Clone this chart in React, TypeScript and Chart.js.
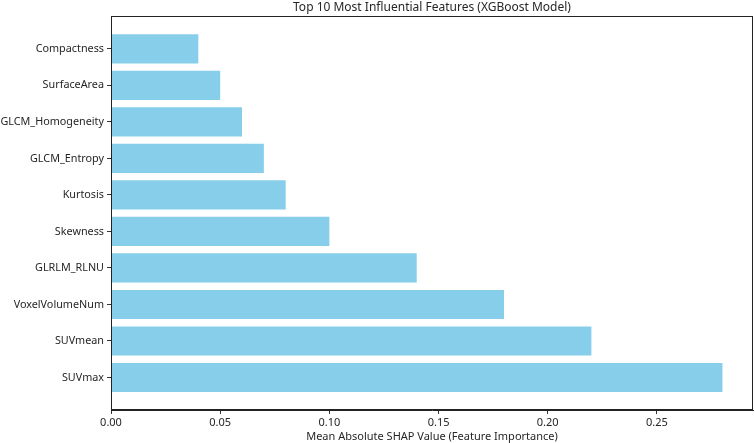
import React, { useEffect, useRef } from "react";
import { Chart, registerables } from "chart.js";

Chart.register(...registerables);

const features = [
  "Compactness",
  "SurfaceArea",
  "GLCM_Homogeneity",
  "GLCM_Entropy",
  "Kurtosis",
  "Skewness",
  "GLRLM_RLNU",
  "VoxelVolumeNum",
  "SUVmean",
  "SUVmax",
];
const shapValues = [0.04, 0.05, 0.06, 0.07, 0.08, 0.1, 0.14, 0.18, 0.22, 0.28];
const xTickValues = [0, 0.05, 0.1, 0.15, 0.2, 0.25];
const titleText = "Top 10 Most Influential Features (XGBoost Model)";
const xAxisTitle = "Mean Absolute SHAP Value (Feature Importance)";

const FONT = "'Noto Sans', 'Open Sans', sans-serif";
const TEXT = "#262626";

const framePlugin = {
  id: "frame",
  afterDraw(chart: any) {
    const { ctx, chartArea } = chart;
    ctx.save();
    ctx.strokeStyle = "#222";
    ctx.lineWidth = 1;
    ctx.strokeRect(
      Math.round(chartArea.left) + 0.5,
      Math.round(chartArea.top) + 0.5,
      Math.round(chartArea.right - chartArea.left) - 1,
      Math.round(chartArea.bottom - chartArea.top) - 1
    );
    ctx.restore();
  },
};

export default function App() {
  const ref = useRef<HTMLCanvasElement | null>(null);

  useEffect(() => {
    if (!ref.current) return;
    const n = features.length;
    const maxVal = Math.max(...shapValues);
    const chart = new Chart(ref.current, {
      type: "bar",
      data: {
        datasets: [
          {
            data: shapValues.map((v, i) => ({ x: v, y: i })),
            backgroundColor: "#87CEEB",
            borderWidth: 0,
            barPercentage: 0.8,
            categoryPercentage: 1,
          },
        ],
      },
      options: {
        indexAxis: "y",
        animation: false,
        responsive: false,
        layout: { padding: { left: 0, right: 2, top: 0, bottom: 0 } },
        plugins: {
          legend: { display: false },
          tooltip: { enabled: false },
          title: {
            display: true,
            text: titleText,
            fullSize: false,
            color: TEXT,
            font: { family: FONT, size: 12, weight: "normal" },
            padding: { top: 0, bottom: 2 },
          },
        },
        scales: {
          x: {
            type: "linear",
            min: 0,
            max: maxVal * 1.05,
            offset: false,
            afterBuildTicks: (scale: any) => {
              scale.ticks = xTickValues.map((v) => ({ value: v }));
            },
            afterFit: (scale: any) => {
              scale.height = 33;
            },
            ticks: {
              color: TEXT,
              font: { family: FONT, size: 11 },
              padding: 2,
              callback: (v: any) => Number(v).toFixed(2),
            },
            grid: {
              drawOnChartArea: false,
              drawTicks: true,
              tickLength: 4,
              color: "#333",
            },
            border: { display: true, color: "#222" },
            title: {
              display: true,
              text: xAxisTitle,
              color: TEXT,
              font: { family: FONT, size: 11 },
              padding: { top: 1, bottom: 0 },
            },
          },
          y: {
            type: "linear",
            reverse: true,
            offset: false,
            min: -0.4 - 0.49,
            max: n - 1 + 0.4 + 0.49,
            afterBuildTicks: (scale: any) => {
              scale.ticks = features.map((_, i) => ({ value: i }));
            },
            afterFit: (scale: any) => {
              scale.width = 111;
            },
            ticks: {
              color: TEXT,
              font: { family: FONT, size: 10.8 },
              padding: 3,
              autoSkip: false,
              callback: (v: any) => features[Math.round(Number(v))] ?? "",
            },
            grid: {
              drawOnChartArea: false,
              drawTicks: true,
              tickLength: 4,
              color: "#333",
              offset: false,
            },
            border: { display: true, color: "#222" },
          },
        },
      },
      plugins: [framePlugin],
    } as any);
    return () => chart.destroy();
  }, []);

  return (
    <div style={{ position: "absolute", left: 0, top: 0, width: 755, height: 443, background: "#fff" }}>
      <canvas ref={ref} width={755} height={443} />
    </div>
  );
}
